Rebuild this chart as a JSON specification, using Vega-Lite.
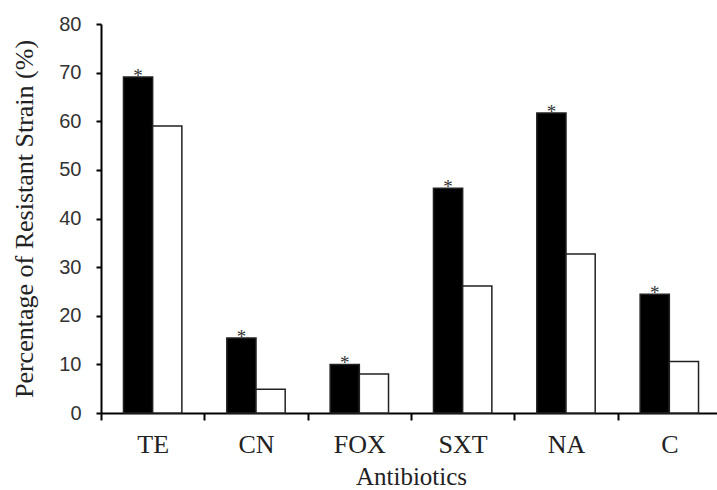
{
  "$schema": "https://vega.github.io/schema/vega-lite/v6.json",
  "autosize": "none",
  "width": 616,
  "height": 389,
  "padding": {"left": 101, "top": 24, "right": 0, "bottom": 77},
  "background": "white",
  "config": {"view": {"stroke": null}},
  "data": {
    "values": [
      {"antibiotic": "TE", "group": "A", "value": 69.1},
      {"antibiotic": "TE", "group": "B", "value": 59.0},
      {"antibiotic": "CN", "group": "A", "value": 15.4},
      {"antibiotic": "CN", "group": "B", "value": 4.9},
      {"antibiotic": "FOX", "group": "A", "value": 10.0},
      {"antibiotic": "FOX", "group": "B", "value": 8.0},
      {"antibiotic": "SXT", "group": "A", "value": 46.2},
      {"antibiotic": "SXT", "group": "B", "value": 26.1},
      {"antibiotic": "NA", "group": "A", "value": 61.7},
      {"antibiotic": "NA", "group": "B", "value": 32.7},
      {"antibiotic": "C", "group": "A", "value": 24.4},
      {"antibiotic": "C", "group": "B", "value": 10.6}
    ]
  },
  "encoding": {
    "x": {
      "field": "antibiotic",
      "type": "nominal",
      "sort": ["TE", "CN", "FOX", "SXT", "NA", "C"],
      "scale": {"range": [0, 620], "paddingInner": 0, "paddingOuter": 0},
      "axis": {
        "title": "Antibiotics",
        "labelAngle": 0,
        "tickBand": "extent",
        "labelFont": "Liberation Serif",
        "labelFontSize": 26,
        "labelColor": "#222",
        "labelPadding": 11,
        "tickSize": 7,
        "tickWidth": 2,
        "tickColor": "black",
        "domainColor": "black",
        "domainWidth": 2,
        "titleFont": "Liberation Serif",
        "titleFontSize": 25,
        "titleFontWeight": "normal",
        "titleColor": "#222",
        "titlePadding": 7
      }
    },
    "xOffset": {
      "field": "group",
      "type": "nominal",
      "scale": {"paddingInner": 0, "paddingOuter": 0.77}
    },
    "y": {
      "field": "value",
      "type": "quantitative",
      "scale": {"domain": [0, 80], "nice": false},
      "axis": {
        "title": "Percentage of Resistant Strain (%)",
        "values": [0, 10, 20, 30, 40, 50, 60, 70, 80],
        "grid": false,
        "labelFont": "Liberation Sans",
        "labelFontSize": 20,
        "labelColor": "#333",
        "labelPadding": 15,
        "tickSize": 5,
        "tickWidth": 2,
        "tickColor": "black",
        "domainColor": "black",
        "domainWidth": 2,
        "titleFont": "Liberation Serif",
        "titleFontSize": 26,
        "titleFontWeight": "normal",
        "titleColor": "#222",
        "titlePadding": 21
      }
    }
  },
  "layer": [
    {
      "mark": {"type": "bar", "stroke": "#222", "strokeWidth": 1.5},
      "encoding": {
        "fill": {
          "field": "group",
          "type": "nominal",
          "scale": {"domain": ["A", "B"], "range": ["black", "white"]},
          "legend": null
        }
      }
    },
    {
      "transform": [{"filter": "datum.group === 'A'"}],
      "mark": {"type": "text", "text": "*", "font": "Liberation Serif", "fontSize": 19, "fill": "#333", "baseline": "alphabetic", "dy": 5}
    }
  ]
}
